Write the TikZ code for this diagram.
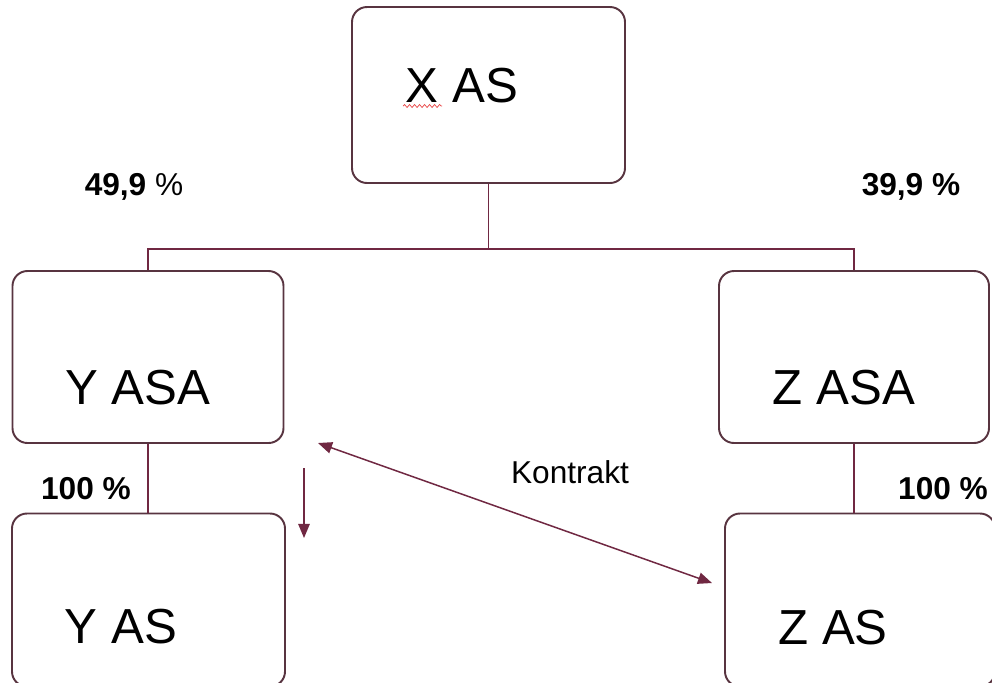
\documentclass[tikz,border=0pt]{standalone}
\usepackage{fontspec}
\setmainfont{Liberation Sans}
\usepackage{tikz}
\usetikzlibrary{arrows.meta, decorations.pathmorphing}
\usepackage{xcolor}
\definecolor{firmline}{RGB}{88,52,64}
\definecolor{linkline}{RGB}{112,40,66}
\definecolor{spellred}{RGB}{232,70,70}

\tikzset{
	firm/.style={rectangle, rounded corners=3mm, draw=firmline, line width=1.1pt, inner sep=0pt},
	firmname/.style={anchor=base, inner sep=0pt, font=\fontsize{28}{34}\selectfont},
	share/.style={anchor=base, inner sep=0pt, font=\fontsize{18}{22}\selectfont},
	owns/.style={draw=linkline, line width=0.8pt},
}

\begin{document}
\begin{tikzpicture}
		[>={Triangle[length=8pt,width=6.5pt]}]
		\clip (0,0) rectangle (19.84,-13.64);
		% companies
		\node[firm, minimum width=5.46cm, minimum height=3.52cm] (x) at (9.77,-1.9) {};
		\node[firm, minimum width=5.42cm, minimum height=3.44cm] (yasa) at (2.96,-7.14) {};
		\node[firm, minimum width=5.40cm, minimum height=3.44cm] (zasa) at (17.08,-7.14) {};
		\node[firm, minimum width=5.46cm, minimum height=3.46cm] (yas) at (2.97,-12.0) {};
		\node[firm, minimum width=5.40cm, minimum height=3.46cm] (zas) at (17.2,-12.0) {};
		
		\node[firmname] (xname) at (9.24,-2.04) {X AS};
		\node[firmname] (yasaname) at (2.76,-8.08) {Y ASA};
		\node[firmname] (zasaname) at (16.88,-8.08) {Z ASA};
		\node[firmname] (yasname) at (2.42,-12.86) {Y AS};
		\node[firmname] (zasname) at (16.66,-12.88) {Z AS};
		
		% spelling mark under the X
		\draw[spellred, line width=0.4pt, decorate, decoration={snake, segment length=1mm, amplitude=0.3mm}]
			(8.06,-2.12) -- (8.84,-2.12);
		
		% ownership lines
		\draw[owns] (x.south) -- ++(0,-1.3) coordinate (split);
		\draw[owns] (split) -| (yasa.north);
		\draw[owns] (split) -| (zasa.north);
		\draw[owns] (yasa.south) -- (yasa.south |- yas.north);
		\draw[owns] (zasa.south) -- (zasa.south |- zas.north);
		
		\node[share] (pctl) at (2.68,-3.9) {\textbf{49,9} \%};
		\node[share, font=\fontsize{18}{22}\selectfont\bfseries] (pctr) at (18.22,-3.9) {39,9 \%};
		\node[share, font=\fontsize{18}{22}\selectfont\bfseries] (pcty) at (1.72,-9.98) {100 \%};
		\node[share, font=\fontsize{18}{22}\selectfont\bfseries] (pctz) at (18.86,-9.98) {100 \%};
		
		% contract between the groups
		\coordinate (ktop) at (6.36,-8.86);
		\coordinate (kbot) at (14.24,-11.66);
		\coordinate (dtop) at (6.08,-9.36);
		\coordinate (dbot) at (6.08,-10.76);
		\draw[<->, linkline, line width=0.85pt] (ktop) -- (kbot);
		\draw[->, linkline, line width=0.85pt] (dtop) -- (dbot);
		\node[share] (kontrakt) at (11.4,-9.66) {Kontrakt};
		
	\end{tikzpicture}
\end{document}
